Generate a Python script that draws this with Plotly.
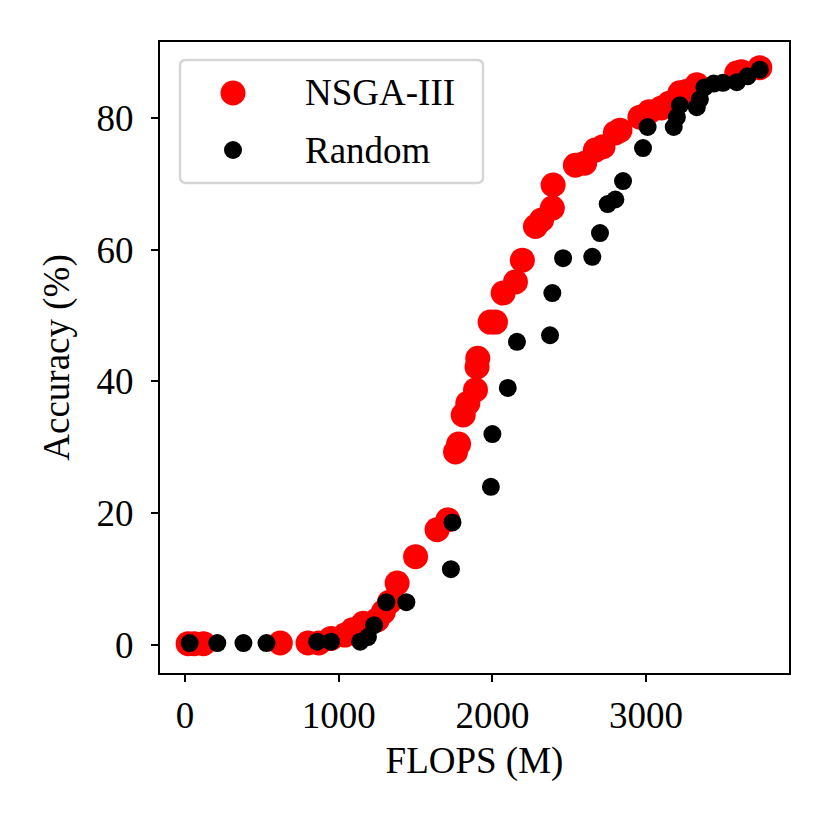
import plotly.graph_objects as go

# NSGA-III search results
nsga_flops = [20, 60, 120, 620, 800, 870, 950, 1040, 1090, 1160, 1250, 1290, 1330, 1380, 1500, 1640, 1710,
              1760, 1780, 1810, 1840, 1890, 1900, 1905, 1985, 2020, 2070, 2150, 2195, 2280, 2320, 2390, 2395,
              2540, 2600, 2670, 2720, 2800, 2830, 2960, 3020, 3100, 3150, 3220, 3260, 3330, 3590, 3620, 3740]
nsga_acc = [0.2, 0.2, 0.2, 0.3, 0.3, 0.3, 1.0, 1.5, 2.3, 3.3, 3.8, 5.0, 6.5, 9.4, 13.4, 17.5, 19.0,
            29.3, 30.5, 34.9, 36.7, 38.7, 42.2, 43.5, 49.0, 49.0, 53.4, 55.1, 58.4, 63.5, 64.5, 66.3, 69.8,
            72.8, 73.1, 75.1, 75.6, 77.7, 78.1, 80.1, 80.9, 81.5, 82.2, 83.8, 84.0, 85.0, 86.8, 87.0, 87.6]

# random sampling
rand_flops = [30, 210, 380, 530, 860, 950, 1140, 1190, 1230, 1310, 1440, 1730, 1740, 1990, 2000, 2100, 2160,
              2375, 2390, 2460, 2650, 2700, 2750, 2800, 2850, 2980, 3010, 3180, 3200, 3220, 3330, 3350, 3380,
              3440, 3500, 3590, 3660, 3740]
rand_acc = [0.3, 0.3, 0.3, 0.3, 0.5, 0.5, 0.5, 1.2, 3.0, 6.5, 6.5, 11.5, 18.6, 24.0, 32.0, 39.0, 46.0,
            47.0, 53.4, 58.7, 58.9, 62.5, 66.9, 67.6, 70.4, 75.4, 78.6, 78.6, 80.1, 81.9, 81.6, 82.8, 84.6,
            85.2, 85.3, 85.4, 86.3, 87.3]

series_names = ["NSGA-III", "Random"]
x_ticks = [0, 1000, 2000, 3000]
y_ticks = [0, 20, 40, 60, 80]

FONT = "Liberation Serif"

fig = go.Figure()
fig.add_trace(go.Scatter(x=nsga_flops, y=nsga_acc, mode='markers', name=series_names[0],
                         marker=dict(color='#ff0000', size=25, line=dict(width=0))))
fig.add_trace(go.Scatter(x=rand_flops, y=rand_acc, mode='markers', name=series_names[1],
                         marker=dict(color='#000000', size=18, line=dict(width=0))))

axis_style = dict(showline=True, linecolor='black', linewidth=2, mirror=True,
                  ticks='outside', ticklen=7, tickwidth=2, tickcolor='black',
                  showgrid=False, zeroline=False,
                  tickfont=dict(family=FONT, size=37, color='black'))

fig.update_xaxes(range=[-163, 3930], tickvals=x_ticks, ticklabelstandoff=2,
                 title=dict(text="FLOPS (M)", font=dict(family=FONT, size=37, color='black'), standoff=12),
                 **axis_style)
fig.update_yaxes(range=[-4.25, 91.5], tickvals=y_ticks, ticklabelstandoff=10,
                 title=dict(text="Accuracy (%)", font=dict(family=FONT, size=37, color='black'), standoff=16),
                 **axis_style)

# legend drawn by hand so markers keep their real size (plotly caps legend symbols)
L, R, T, B, r = 20, 323, -18, -141, 6
box = (f"M {L+r},{T} L {R-r},{T} Q {R},{T} {R},{T-r} L {R},{B+r} Q {R},{B} {R-r},{B} "
       f"L {L+r},{B} Q {L},{B} {L},{B+r} L {L},{T-r} Q {L},{T} {L+r},{T} Z")
shapes = [dict(type='path', path=box, xref='paper', yref='paper', xsizemode='pixel', ysizemode='pixel',
               xanchor=0, yanchor=1, line=dict(color='#d6d6d6', width=2.5), fillcolor='rgba(255,255,255,0.8)')]
for cy, rad, col in [(-51, 12.5, '#ff0000'), (-108, 9, '#000000')]:
    shapes.append(dict(type='circle', xref='paper', yref='paper', xsizemode='pixel', ysizemode='pixel',
                       xanchor=0, yanchor=1, x0=73 - rad, x1=73 + rad, y0=cy - rad, y1=cy + rad,
                       fillcolor=col, line=dict(width=0)))

annotations = []
for name, py in zip(series_names, [0.9192, 0.8288]):
    annotations.append(dict(text=name, x=0.2273, y=py, xref='paper', yref='paper', showarrow=False,
                            xanchor='left', yanchor='middle',
                            font=dict(family=FONT, size=37, color='black')))

# page body adds ~8px margin, so margins are shifted to land the frame where the reference has it
fig.update_layout(width=830, height=830, showlegend=False,
                  margin=dict(l=152, r=49, t=34, b=165),
                  paper_bgcolor='white', plot_bgcolor='white',
                  shapes=shapes, annotations=annotations,
                  font=dict(family=FONT, color='black'))

fig.write_html("out.html")
